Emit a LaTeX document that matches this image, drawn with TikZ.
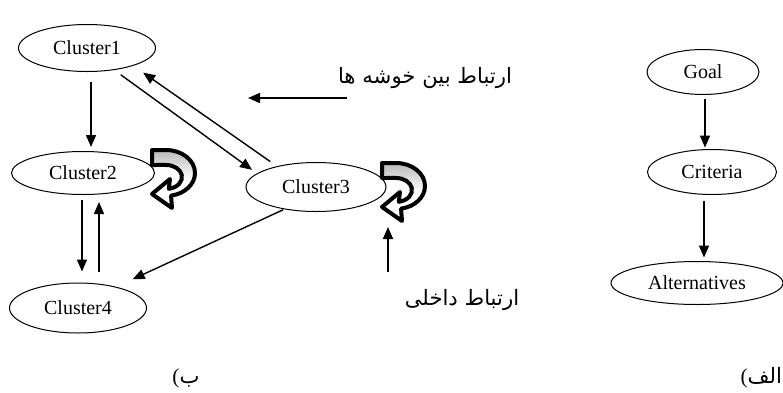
\documentclass[tikz,border=0pt]{standalone}
\usepackage{fontspec}
\setmainfont{Liberation Serif}
\newfontfamily\arabicfont[Script=Arabic]{DejaVu Sans}
\TeXXeTstate=1
\usetikzlibrary{shapes.geometric,arrows.meta}
\tikzset{
    cluster/.style={draw, ellipse, inner sep=0pt, line width=0.5pt,
        font=\fontsize{10}{12}\selectfont},
    link/.style={-{Triangle[length=6pt,width=5pt]}, line width=0.7pt},
    fa/.style={font=\arabicfont\fontsize{10.6}{13}\selectfont},
    curl/.pic={
        \draw[line width=2pt, line join=round, top color=gray!55, bottom color=white, middle color=white]
            (0,0) -- (14,0) arc[start angle=90, end angle=-80, x radius=14.5pt, y radius=11.5pt]
            -- (20,58) -- (0,44) -- (18,29) -- (16.8,38.8)
            arc[start angle=-80, end angle=90, x radius=8pt, y radius=6pt] -- (0,15) -- cycle;
    }
}
\begin{document}
\begin{tikzpicture}[x=0.5pt, y=-0.5pt]
            \useasboundingbox (0,0) rectangle (783,392);

            \node[cluster, minimum width=68.5pt, minimum height=23.5pt] (c1) at (87,48) {Cluster1};
            \node[cluster, minimum width=71.5pt, minimum height=21.5pt] (c2) at (83,173) {Cluster2};
            \node[cluster, minimum width=70pt, minimum height=24.5pt] (c3) at (316,187) {Cluster3};
            \node[cluster, minimum width=68.5pt, minimum height=25pt] (c4) at (78,308) {Cluster4};

            \node[cluster, minimum width=56pt, minimum height=22.5pt] (goal) at (703,72) {Goal};
            \node[cluster, minimum width=64.5pt, minimum height=22.5pt] (crit) at (712,172) {Criteria};
            \node[cluster, minimum width=86pt, minimum height=21.5pt] (alt) at (697,283) {Alternatives};

            \node[fa] (between) at (425,78) {\beginR ارتباط بین خوشه ها\endR};
            \node[fa] (inner) at (462,300) {\beginR ارتباط داخلی\endR};
            \node[fa] (partb) at (186,378) {\rmfamily(\arabicfont ب};
            \node[fa, anchor=east] (parta) at (789,378) {\rmfamily(\arabicfont\beginR الف\endR};

            \coordinate (between-s) at (347,98);
            \coordinate (between-e) at (248,98);
            \coordinate (inner-s) at (388,272);
            \coordinate (inner-e) at (388,227);

            \draw[link, shorten <=5pt, shorten >=2pt, transform canvas={xshift=2pt}] (c1.south) to (c1.south |- c2.north);
            \draw[link, shorten <=4pt, shorten >=3pt] (c1.-39) to (c3.167);
            \draw[link, shorten <=4pt, shorten >=6pt] (c3.152) to (c1.-21);
            \draw[link, shorten <=2.5pt, shorten >=5.5pt, transform canvas={xshift=-0.5pt}] (c2.south) to (c2.south |- c4.north);
            \draw[link, shorten <=5.5pt, shorten >=3.5pt, transform canvas={xshift=8pt}] (c2.south |- c4.north) to (c2.south);
            \draw[link, shorten <=0.5pt, shorten >=9pt] (c3.215) to (c4.29);

            \draw[link, shorten <=1.75pt, shorten >=0.75pt, transform canvas={xshift=1pt}] (goal.south) to (goal.south |- crit.north);
            \draw[link, shorten <=2.75pt, shorten >=1.75pt, transform canvas={xshift=0.5pt}] (crit.south -| goal.south) to (goal.south |- alt.north);

            \draw[link] (between-s) to (between-e);
            \draw[link] (inner-s) to (inner-e);

            \pic at (152,150) {curl};
            \pic at (382,163) {curl};
\end{tikzpicture}
\end{document}
